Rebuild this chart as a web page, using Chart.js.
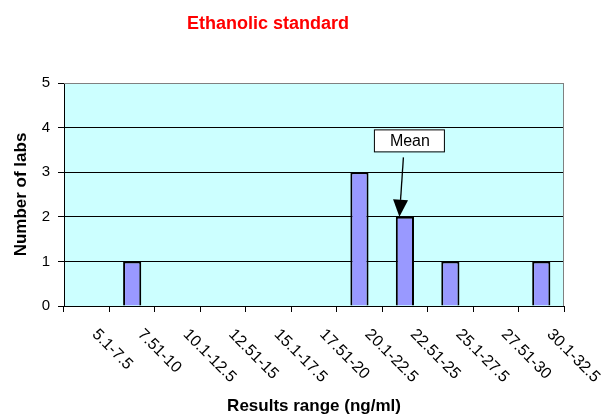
<!DOCTYPE html>
<html>
<head>
<meta charset="utf-8">
<script src="https://cdn.jsdelivr.net/npm/chart.js@4"></script>
<style>
  html, body { margin: 0; padding: 0; background: #fff; }
  #wrap { width: 606px; height: 417px; }
</style>
</head>
<body>
<div id="wrap"><canvas id="chart" width="606" height="417"></canvas></div>
<script>
// chart data
const categories = ["5.1-7.5", "7.51-10", "10.1-12.5", "12.51-15", "15.1-17.5", "17.51-20",
                    "20.1-22.5", "22.51-25", "25.1-27.5", "27.51-30", "30.1-32.5"];
const labCounts = [0, 1, 0, 0, 0, 0, 3, 2, 1, 0, 1];
const yTicks = [0, 1, 2, 3, 4, 5];
const chartTitle = "Ethanolic standard";
const meanLabel = "Mean";
const meanCategory = 7;   // bar the Mean arrow points at

const FONT = 'Arial, "Liberation Sans", sans-serif';

// light cyan plot background + grey top/right frame
const plotBackground = {
    id: 'plotBackground',
    beforeDraw(chart) {
        const {ctx, chartArea: a} = chart;
        ctx.save();
        ctx.fillStyle = '#CCFFFF';
        ctx.fillRect(a.left, a.top, a.right - a.left, a.bottom - a.top);
        ctx.restore();
    },
    afterDatasetsDraw(chart) {
        const {ctx, chartArea: a} = chart;
        ctx.save();
        ctx.strokeStyle = '#808080';
        ctx.lineWidth = 1;
        ctx.beginPath();
        ctx.moveTo(a.left, a.top + 0.5);
        ctx.lineTo(a.right - 0.5, a.top + 0.5);
        ctx.lineTo(a.right - 0.5, a.bottom);
        ctx.stroke();
        ctx.restore();
    }
};

// title, slanted category labels and the Mean callout
const extras = {
    id: 'extras',
    afterDraw(chart) {
        const ctx = chart.ctx;
        const x = chart.scales.x, y = chart.scales.y;
        ctx.save();

        ctx.fillStyle = '#FF0000';
        ctx.font = 'bold 18px ' + FONT;
        ctx.textAlign = 'center';
        ctx.textBaseline = 'alphabetic';
        ctx.fillText(chartTitle, 268, 28.5);

        ctx.fillStyle = '#000';
        ctx.font = '16px ' + FONT;
        ctx.textAlign = 'left';
        ctx.textBaseline = 'middle';
        categories.forEach((c, i) => {
            ctx.save();
            ctx.translate(x.getPixelForValue(i) + 8, x.top + 26);
            ctx.rotate(Math.PI / 4);
            ctx.fillText(c, 0, 0);
            ctx.restore();
        });

        // Mean box + arrow
        const cx = x.getPixelForValue(meanCategory);
        const boxX = cx - 31, boxY = y.getPixelForValue(3.96), boxW = 70, boxH = 22;
        ctx.fillStyle = '#fff';
        ctx.fillRect(boxX, boxY, boxW, boxH);
        ctx.strokeStyle = '#000';
        ctx.lineWidth = 1;
        ctx.strokeRect(boxX + 0.5, boxY + 0.5, boxW, boxH);
        ctx.fillStyle = '#000';
        ctx.font = '16px ' + FONT;
        ctx.textAlign = 'center';
        ctx.fillText(meanLabel, boxX + boxW / 2 + 1, boxY + boxH / 2 + 1);

        const sx = cx - 1.5, sy = boxY + boxH + 6;
        const tx = cx - 5.5, ty = y.getPixelForValue(labCounts[meanCategory]);
        const ang = Math.atan2(ty - sy, tx - sx);
        const hl = 17, hw = 7.5;
        const bx = tx - hl * Math.cos(ang), by = ty - hl * Math.sin(ang);
        ctx.beginPath();
        ctx.moveTo(sx, sy);
        ctx.lineTo(bx, by);
        ctx.lineWidth = 1.3;
        ctx.stroke();
        ctx.beginPath();
        ctx.moveTo(tx, ty);
        ctx.lineTo(bx - hw * Math.sin(ang), by + hw * Math.cos(ang));
        ctx.lineTo(bx + hw * Math.sin(ang), by - hw * Math.cos(ang));
        ctx.closePath();
        ctx.fill();

        ctx.restore();
    }
};

new Chart(document.getElementById('chart'), {
    type: 'bar',
    data: {
        labels: categories,
        datasets: [{
            data: labCounts,
            backgroundColor: '#9999FF',
            borderColor: '#000',
            borderWidth: 2,
            borderSkipped: 'start',
            barPercentage: 0.4,
            categoryPercentage: 1
        }]
    },
    options: {
        responsive: false,
        animation: false,
        devicePixelRatio: 1,
        layout: { padding: { top: 83, right: 42, left: 0, bottom: 0 } },
        plugins: {
            legend: { display: false },
            tooltip: { enabled: false },
            title: { display: false }
        },
        scales: {
            x: {
                offset: true,
                afterFit(scale) { scale.height = 111; },
                grid: { offset: true, drawOnChartArea: false, drawTicks: true, tickLength: 6, color: '#000' },
                border: { color: '#000', width: 1 },
                ticks: { display: false, autoSkip: false },
                title: {
                    display: true,
                    text: 'Results range (ng/ml)',
                    color: '#000',
                    font: { family: FONT, size: 17, weight: 'bold' },
                    padding: { top: 0, bottom: 0 }
                }
            },
            y: {
                min: 0,
                max: 5,
                afterFit(scale) { scale.width = 64; },
                afterBuildTicks(scale) { scale.ticks = yTicks.map(v => ({ value: v })); },
                grid: {
                    color: ctx => (ctx.tick && ctx.tick.value === 5) ? '#808080' : '#000',
                    tickColor: '#000',
                    tickLength: 6,
                    lineWidth: 1
                },
                border: { color: '#000', width: 1 },
                ticks: {
                    color: '#000',
                    padding: 8,
                    font: { family: FONT, size: 15 }
                },
                title: {
                    display: true,
                    text: 'Number of labs',
                    color: '#000',
                    font: { family: FONT, size: 17, weight: 'bold' },
                    padding: { top: 11, bottom: 0 }
                }
            }
        }
    },
    plugins: [plotBackground, extras]
});
</script>
</body>
</html>
